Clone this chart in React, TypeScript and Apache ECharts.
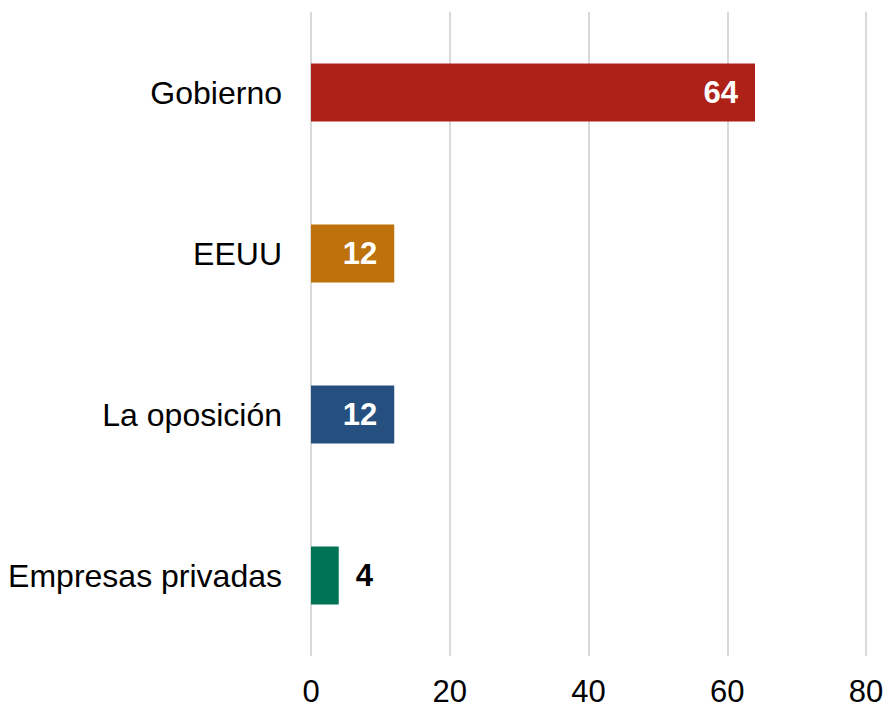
import React, { useEffect, useRef } from "react";
import * as echarts from "echarts";

const categories = ["Gobierno", "EEUU", "La oposición", "Empresas privadas"];
const values = [64, 12, 12, 4];
const barColors = ["#AE2117", "#BD720B", "#244F7E", "#007356"];
const labelInside = [true, true, true, false];
const xTicks = { min: 0, max: 80, interval: 20 };

export default function App() {
  const ref = useRef<HTMLDivElement>(null);
  useEffect(() => {
    if (!ref.current) return;
    const chart = echarts.init(ref.current, null, { renderer: "svg" });
    const font = "'Liberation Sans', Arial, sans-serif";
    chart.setOption({
      animation: false,
      backgroundColor: "#ffffff",
      grid: { left: 311, right: 21, top: 12, bottom: 51, containLabel: false },
      xAxis: {
        type: "value",
        min: xTicks.min,
        max: xTicks.max,
        interval: xTicks.interval,
        axisLine: { show: false },
        axisTick: { show: false },
        axisLabel: {
          fontSize: 31,
          lineHeight: 30,
          color: "#000000",
          fontFamily: font,
          margin: 20,
        },
        splitLine: { show: true, lineStyle: { color: "#d9d9d9", width: 2 } },
      },
      yAxis: {
        type: "category",
        data: categories,
        inverse: true,
        axisLine: { show: false },
        axisTick: { show: false },
        axisLabel: { fontSize: 32, color: "#000000", fontFamily: font, margin: 29 },
      },
      series: [
        {
          type: "bar",
          barWidth: 58,
          data: values.map((v, i) => ({
            value: v,
            itemStyle: { color: barColors[i] },
            label: labelInside[i]
              ? { position: "insideRight", color: "#ffffff", distance: 17 }
              : { position: "right", color: "#000000", distance: 17 },
          })),
          label: {
            show: true,
            fontSize: 31,
            fontWeight: "bold",
            fontFamily: font,
          },
        },
      ],
    });
    return () => chart.dispose();
  }, []);
  return (
    <div
      ref={ref}
      style={{ position: "absolute", left: 0, top: 0, width: 887, height: 707 }}
    />
  );
}
